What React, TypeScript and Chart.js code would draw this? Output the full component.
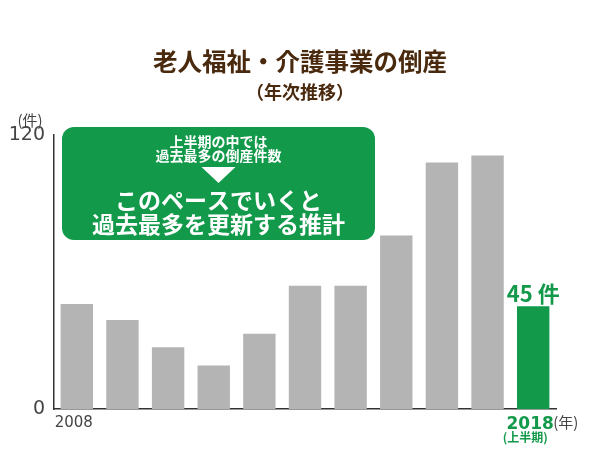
import React, { useEffect, useRef } from "react";
import { Chart, registerables } from "chart.js";

Chart.register(...registerables);

const years = ["2008", "2009", "2010", "2011", "2012", "2013", "2014", "2015", "2016", "2017", "2018"];
const cases = [46, 39, 27, 19, 33, 54, 54, 76, 108, 111, 45];
const yRange = [0, 120];
const titleText = "老人福祉・介護事業の倒産";
const subtitleText = "（年次推移）";
const calloutSmall = ["上半期の中では", "過去最多の倒産件数"];
const calloutLarge = ["このペースでいくと", "過去最多を更新する推計"];
const lastLabelNote = "(上半期)";
const valueUnit = "件";
const yUnit = "(件)";
const xUnit = "(年)";

const GREEN = "#12994a";
const GREY_BAR = "#b4b4b4";
const BROWN = "#4a2a0e";
const TEXT = "#444444";
const FONT = "'Noto Sans CJK JP', 'Noto Sans', sans-serif";
const NUMFONT = "'DejaVu Sans', 'Noto Sans CJK JP', sans-serif";

const annotPlugin = {
  id: "annot",
  afterDraw(chart: any) {
    const { ctx, chartArea, scales, width } = chart;
    const xs = scales.x;
    const ys = scales.y;
    const last = years.length - 1;
    ctx.save();

    // titles
    ctx.fillStyle = BROWN;
    ctx.textAlign = "center";
    ctx.textBaseline = "middle";
    ctx.font = `bold 24.5px ${FONT}`;
    ctx.fillText(titleText, width / 2, 62);
    ctx.font = `bold 18px ${FONT}`;
    ctx.fillText(subtitleText, width / 2, 92);

    // y unit
    ctx.fillStyle = TEXT;
    ctx.font = `15px ${FONT}`;
    ctx.fillText(yUnit, 30, ys.getPixelForValue(yRange[1]) - 15);

    // x unit and note under last label
    const lx = xs.getPixelForValue(last);
    const labelY = chartArea.bottom + 13;
    ctx.textAlign = "left";
    ctx.fillText(xUnit, lx + 20, labelY);
    ctx.fillStyle = GREEN;
    ctx.font = `bold 12px ${FONT}`;
    ctx.textAlign = "center";
    ctx.fillText(lastLabelNote, lx - 8, labelY + 15);

    // value label on last bar
    const bar = chart.getDatasetMeta(0).data[last];
    ctx.font = `bold 22px ${FONT}`;
    ctx.textBaseline = "bottom";
    ctx.fillText(`${cases[last]} ${valueUnit}`, bar.x, bar.y - 2);

    // callout box
    const left = chartArea.left + 8;
    const top = chartArea.top - 8;
    const w = 313;
    const h = 113;
    ctx.fillStyle = GREEN;
    ctx.beginPath();
    ctx.roundRect(left, top, w, h, 12);
    ctx.fill();
    const cx = left + w / 2;
    ctx.fillStyle = "#ffffff";
    ctx.textAlign = "center";
    ctx.textBaseline = "middle";
    ctx.font = `bold 14px ${FONT}`;
    ctx.fillText(calloutSmall[0], cx, top + 15);
    ctx.fillText(calloutSmall[1], cx, top + 29);
    ctx.beginPath();
    ctx.moveTo(cx - 17, top + 40);
    ctx.lineTo(cx + 17, top + 40);
    ctx.lineTo(cx, top + 56);
    ctx.closePath();
    ctx.fill();
    ctx.font = `bold 23px ${FONT}`;
    ctx.fillText(calloutLarge[0], cx, top + 73);
    ctx.fillText(calloutLarge[1], cx, top + 97);
    ctx.restore();
  },
};

export default function App() {
  const ref = useRef<HTMLCanvasElement | null>(null);

  useEffect(() => {
    if (!ref.current) return;
    Chart.defaults.font.family = FONT;
    const last = years.length - 1;
    const chart = new Chart(ref.current, {
      type: "bar",
      data: {
        labels: years,
        datasets: [
          {
            data: cases,
            backgroundColor: years.map((_, i) => (i === last ? GREEN : GREY_BAR)),
            borderWidth: 0,
            categoryPercentage: 1,
            barPercentage: 0.71,
          },
        ],
      },
      options: {
        animation: false,
        responsive: false,
        layout: { padding: { left: 0, right: 44, top: 135, bottom: 0 } },
        plugins: {
          legend: { display: false },
          tooltip: { enabled: false },
          title: { display: false },
          subtitle: { display: false },
        },
        scales: {
          x: {
            grid: { display: false, drawTicks: false },
            border: { display: true, color: "#333", width: 1.5 },
            ticks: {
              autoSkip: false,
              maxRotation: 0,
              padding: 5,
              labelOffset: -3,
              callback: (_v: any, i: number) => (i === 0 || i === last ? years[i] : ""),
              color: (c: any) => (c.index === last ? GREEN : TEXT),
              font: (c: any) =>
                c.index === last
                  ? { size: 17, weight: "bold", family: NUMFONT }
                  : { size: 15, weight: "normal", family: NUMFONT },
            },
            afterFit: (s: any) => {
              s.height = 41;
            },
          },
          y: {
            min: yRange[0],
            max: yRange[1],
            grid: { display: false, drawTicks: false },
            border: { display: true, color: "#333", width: 1.5 },
            ticks: {
              stepSize: yRange[1] - yRange[0],
              padding: 9,
              color: TEXT,
              font: { size: 19, family: NUMFONT },
            },
            afterFit: (s: any) => {
              s.width = 54;
            },
          },
        },
      },
      plugins: [annotPlugin],
    });
    return () => chart.destroy();
  }, []);

  return (
    <div style={{ position: "absolute", left: 0, top: 0, width: 600, height: 450, background: "#fff" }}>
      <canvas ref={ref} width={600} height={450} />
    </div>
  );
}
